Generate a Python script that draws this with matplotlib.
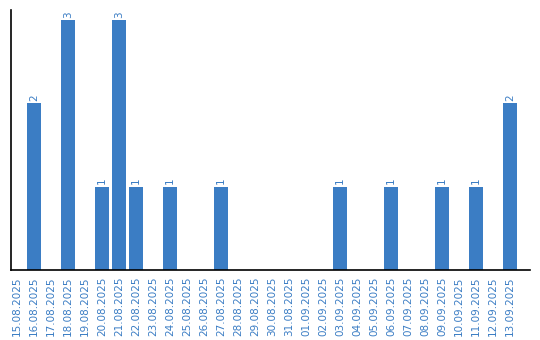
import matplotlib
matplotlib.use("Agg")
import matplotlib.pyplot as plt

dates = ["15.08.2025", "16.08.2025", "17.08.2025", "18.08.2025", "19.08.2025",
         "20.08.2025", "21.08.2025", "22.08.2025", "23.08.2025", "24.08.2025",
         "25.08.2025", "26.08.2025", "27.08.2025", "28.08.2025", "29.08.2025",
         "30.08.2025", "31.08.2025", "01.09.2025", "02.09.2025", "03.09.2025",
         "04.09.2025", "05.09.2025", "06.09.2025", "07.09.2025", "08.09.2025",
         "09.09.2025", "10.09.2025", "11.09.2025", "12.09.2025", "13.09.2025"]
counts = [0, 2, 0, 3, 0, 1, 3, 1, 0, 1, 0, 0, 1, 0, 0,
          0, 0, 0, 0, 1, 0, 0, 1, 0, 0, 1, 0, 1, 0, 2]

color = "#3b7dc4"
fig = plt.figure(figsize=(5.4, 3.4), dpi=100)
ax = fig.add_axes([11/540, 70/340, 519/540, 260/340])
x = list(range(len(dates)))
bars = ax.bar(x, counts, width=0.82, color=color)
for xi, v in zip(x, counts):
    if v > 0:
        ax.text(xi, v + 0.03, str(v), rotation=90, ha="center", va="bottom",
                color=color, fontsize=7.5)
ax.set_xlim(-0.35, 30.18)
ax.set_ylim(0, 3.12)
ax.set_xticks(x)
ax.set_xticklabels(dates, rotation=90, fontsize=7.5, color=color)
ax.tick_params(axis="x", length=0, pad=5)
ax.set_yticks([])
for s in ["top", "right"]:
    ax.spines[s].set_visible(False)
ax.spines["left"].set_color("black")
ax.spines["bottom"].set_color("black")
ax.spines["left"].set_linewidth(1.2)
ax.spines["bottom"].set_linewidth(1.2)
fig.savefig("out.png", dpi=100)
